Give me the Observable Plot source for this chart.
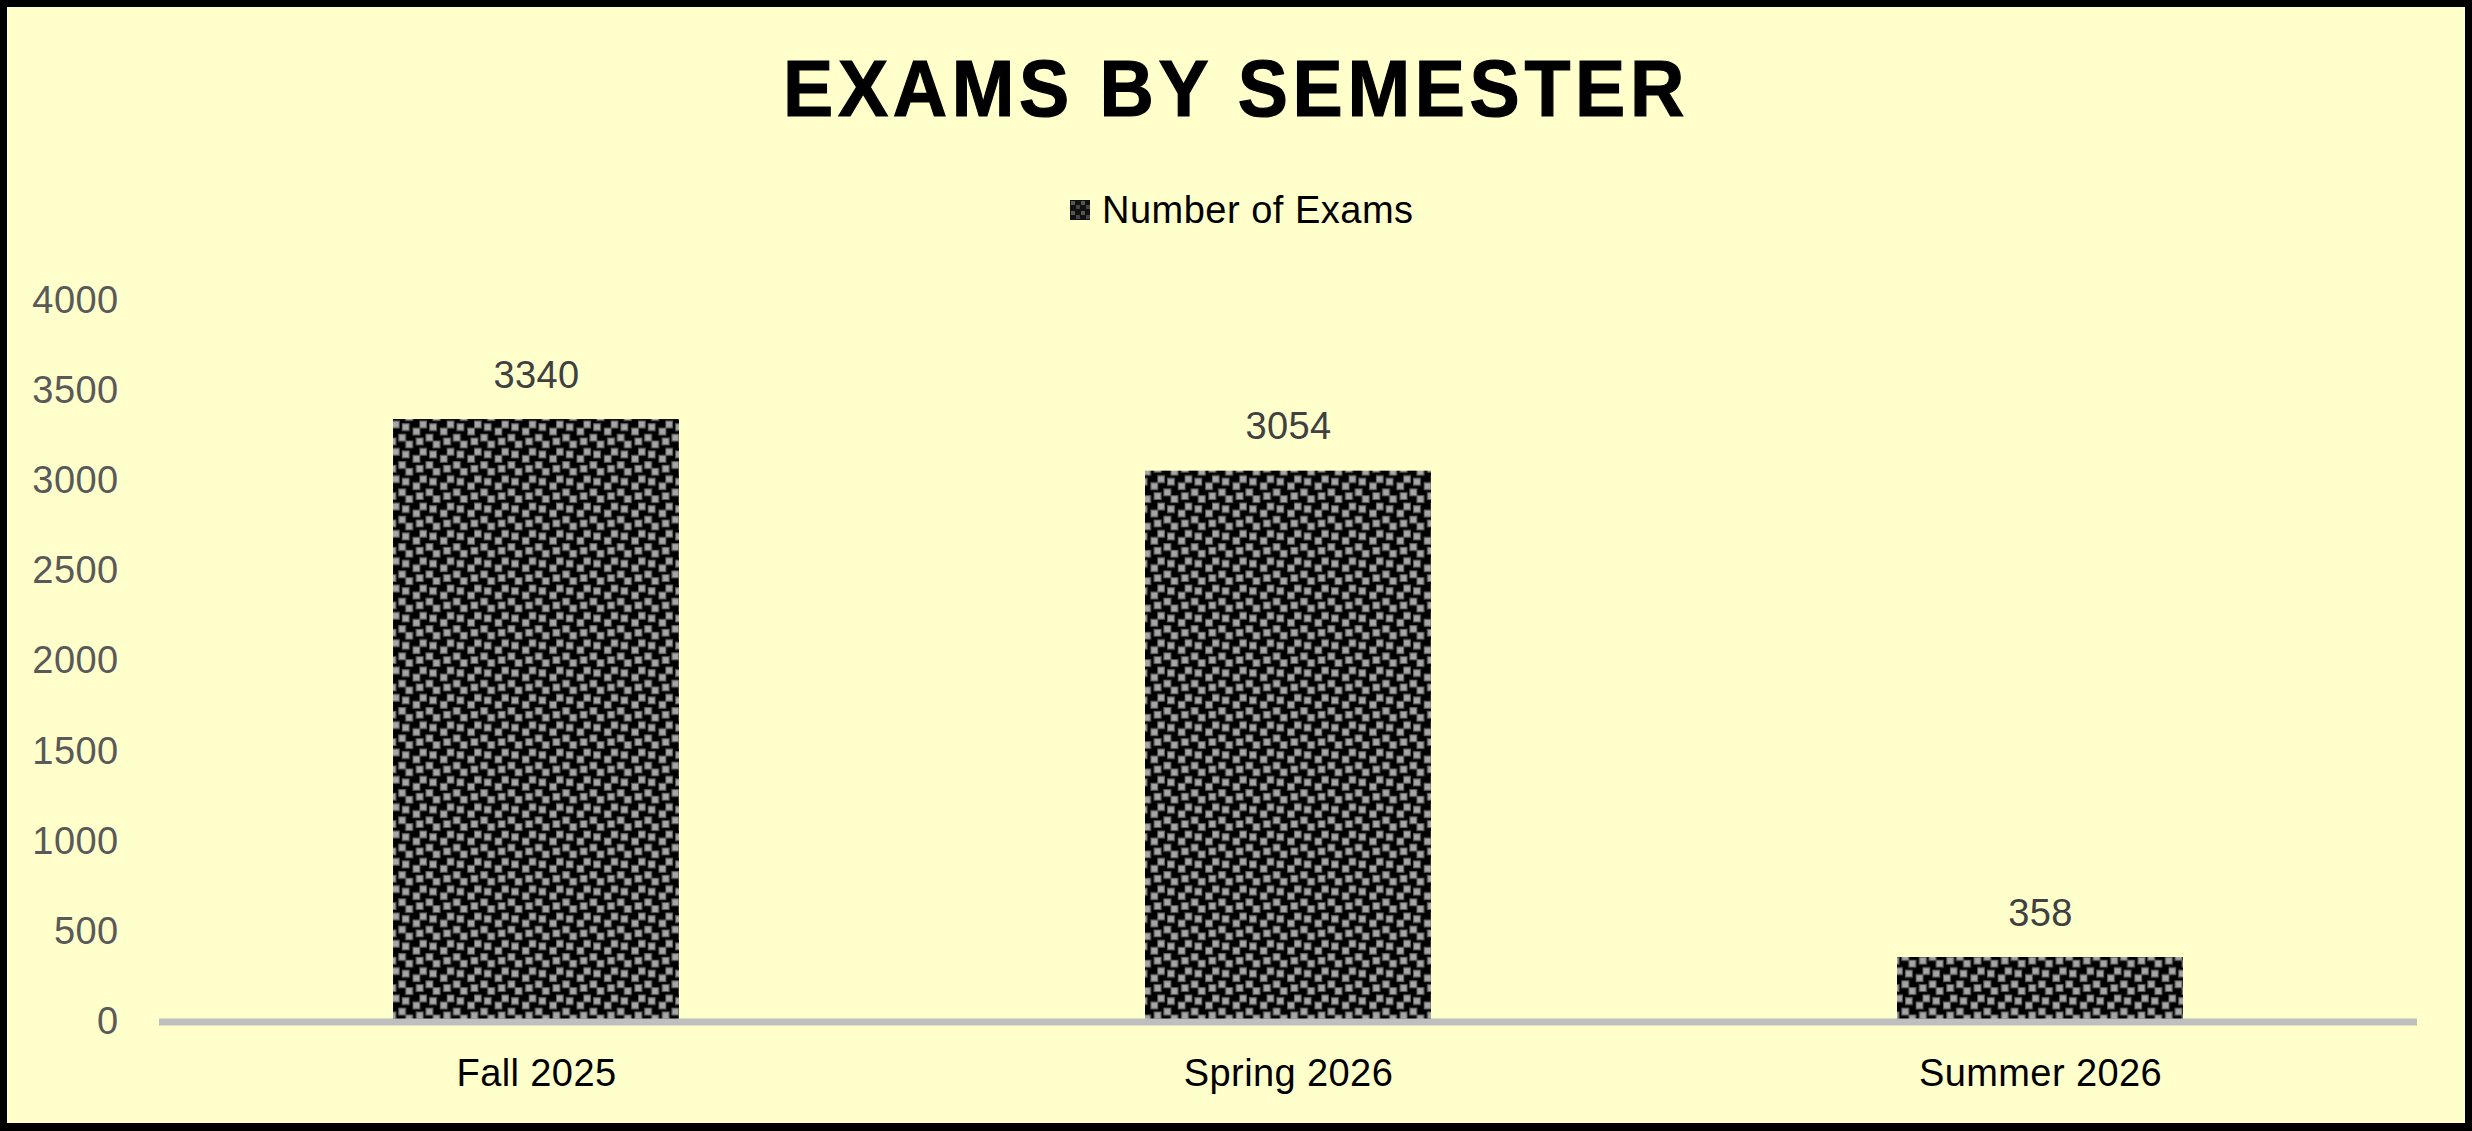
<!DOCTYPE html>
<html>
<head>
<meta charset="utf-8">
<script src="https://cdn.jsdelivr.net/npm/d3@7"></script>
<script src="https://cdn.jsdelivr.net/npm/@observablehq/plot@0.6"></script>
<style>
  html, body { margin: 0; padding: 0; background: #FFFFCC; }
  #page { position: relative; width: 2472px; height: 1131px; background: #FFFFCC; overflow: hidden; font-family: "Liberation Sans", Arial, sans-serif; }
  #chart { position: absolute; left: 0; top: 0; }
  #title { position: absolute; left: 0; top: 49px; width: 2472px; text-align: center; font-size: 80px; line-height: 80px; font-weight: bold; letter-spacing: 5px; color: #000; -webkit-text-stroke: 1.2px #000; transform: scaleX(0.94); transform-origin: 1236px 0; }
  #legend { position: absolute; left: 1070px; top: 191px; height: 38px; display: flex; align-items: center; font-size: 38px; line-height: 38px; letter-spacing: 0.5px; color: #000; }
  #legend svg { margin-right: 12px; }
  #border { position: absolute; left: 0; top: 0; width: 2472px; height: 1131px; box-sizing: border-box; border: 7px solid #000; border-bottom-width: 8px; pointer-events: none; }
  #chart svg text { letter-spacing: 0.4px; }
</style>
</head>
<body>
<div id="page">
  <div id="chart"></div>
  <div id="title">EXAMS BY SEMESTER</div>
  <div id="legend"><svg width="20" height="20"><rect width="20" height="20" fill="url(#examPatternLegend)"/></svg><span>Number of Exams</span></div>
  <div id="border"></div>
</div>
<script>
// ---- data ----
const semesters = ["Fall 2025", "Spring 2026", "Summer 2026"];
const examCounts = [3340, 3054, 358];
const yTickValues = [0, 500, 1000, 1500, 2000, 2500, 3000, 3500, 4000];
const seriesName = "Number of Exams";

const rows = semesters.map((s, i) => ({ semester: s, exams: examCounts[i] }));

const chart = Plot.plot({
  width: 2472,
  height: 1131,
  marginTop: 300,
  marginBottom: 109.4,
  marginLeft: 159,
  marginRight: 55,
  style: { background: "transparent", fontFamily: "Liberation Sans, Arial, sans-serif", overflow: "visible" },
  x: { domain: semesters, paddingInner: 0.62, paddingOuter: 0.31, label: null },
  y: { domain: [0, 4000], label: null },
  marks: [
    Plot.barY(rows, { x: "semester", y: "exams", fill: "url(#examPattern)", inset: 0 }),
    Plot.ruleY([0], { stroke: "#BFBFBF", strokeWidth: 7 }),
    Plot.text(rows, { x: "semester", y: "exams", text: d => String(d.exams), lineAnchor: "bottom", dy: -32, fontSize: 38, fill: "#404040" }),
    Plot.axisY({ ticks: yTickValues, tickSize: 0, tickPadding: 41, fontSize: 38, color: "#595959", label: null, tickFormat: d => String(d) }),
    Plot.axisX({ tickSize: 0, tickPadding: 37.4, fontSize: 38, color: "#000", label: null })
  ]
});

// Pattern: black ground with staggered gray squares
const tile = 27.33;
const sq = [[10.3, 4.7], [21, 9], [0.3, 2], [6.7, 15.3], [13.7, 22], [24.3, 19]];
const svg = d3.select(chart);
(function () {
  let defs = svg.select("defs");
  if (defs.empty()) defs = svg.insert("defs", ":first-child");
  const p = defs.append("pattern").attr("id", "examPattern").attr("patternUnits", "userSpaceOnUse")
    .attr("x", 392).attr("y", 419).attr("width", tile).attr("height", tile);
  p.append("rect").attr("width", tile).attr("height", tile).attr("fill", "#000");
  for (const [x, y] of sq) for (const ox of [0, -tile]) for (const oy of [0, -tile]) {
    p.append("rect").attr("x", x + ox).attr("y", y + oy).attr("width", 6.9).attr("height", 6.9)
      .attr("fill", "#a6a6a6").attr("stroke", "#5e5e5e").attr("stroke-width", 1.1);
  }
})();
document.getElementById("chart").appendChild(chart);

// Legend swatch pattern
(function () {
  const ls = d3.select("#legend svg");
  const defs = ls.insert("defs", ":first-child");
  const t = 10;
  const p = defs.append("pattern").attr("id", "examPatternLegend").attr("patternUnits", "userSpaceOnUse")
    .attr("width", t).attr("height", t);
  p.append("rect").attr("width", t).attr("height", t).attr("fill", "#111");
  p.append("rect").attr("x", 1).attr("y", 1).attr("width", 4).attr("height", 4).attr("fill", "#555");
  p.append("rect").attr("x", 6).attr("y", 5).attr("width", 4).attr("height", 4).attr("fill", "#444");
})();
</script>
</body>
</html>
